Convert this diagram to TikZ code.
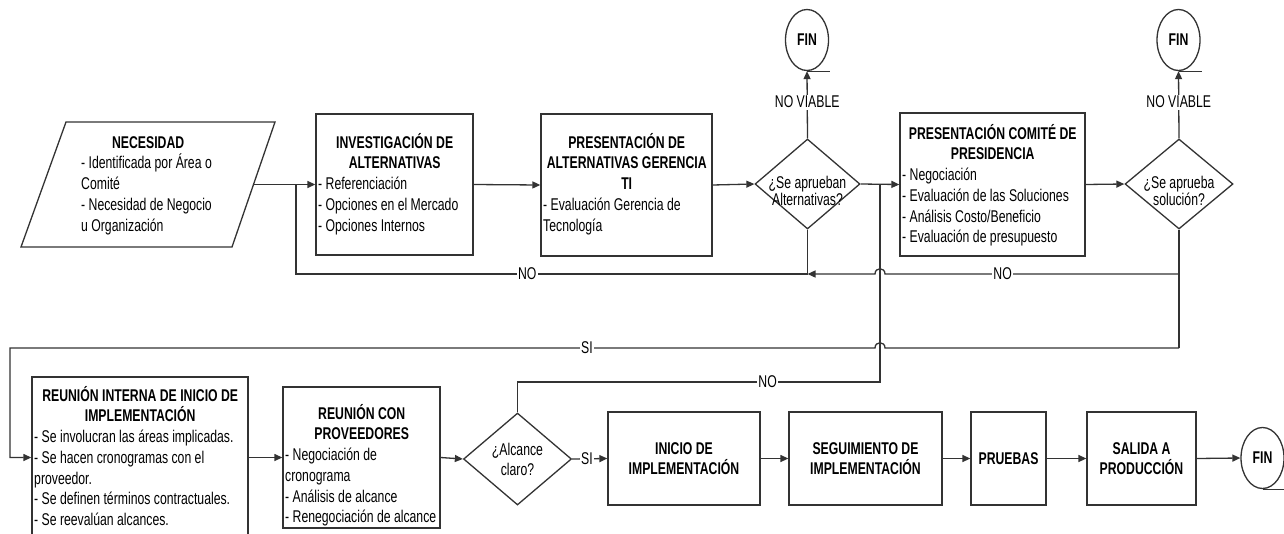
\documentclass[tikz,border=0pt]{standalone}
\usepackage{fontspec}
\setmainfont{Liberation Sans}[FakeStretch=0.72]
\usetikzlibrary{shapes.geometric,arrows.meta}
\newcommand\boxtitle[2]{\makebox[#1pt]{\bfseries #2}}
\begin{document}
\begin{tikzpicture}[x=1pt,y=-1pt,
  font=\fontsize{17pt}{20.7pt}\selectfont,
  conn/.style={draw=black!80,line width=1.3pt},
  arr/.style={conn,-{Triangle[length=8pt,width=7pt]}},
  box/.style={rectangle,draw=black!80,line width=1.3pt,inner sep=0pt},
  plainbox/.style={box,align=center,font=\fontsize{17pt}{20.7pt}\selectfont\bfseries},
  decision/.style={diamond,draw=black!80,line width=1.3pt,inner sep=0pt},
  finnode/.style={ellipse,draw=black!80,line width=1.3pt,inner sep=0pt,
    minimum width=43pt,minimum height=61pt,
    font=\fontsize{17pt}{20.7pt}\selectfont\bfseries},
  txt/.style={inner sep=0pt,align=left,anchor=north west},
  dtxt/.style={inner sep=0pt,align=center,font=\fontsize{17pt}{16.5pt}\selectfont},
  lbl/.style={fill=white,inner sep=1.5pt}]

\fill[white] (0,0) rectangle (1284,533);
\useasboundingbox (0,0) rectangle (1284,533);
\clip (0,0) rectangle (1284,533);

% ---- top row ----
% input parallelogram
\draw[conn] (66,122) -- (275,122) -- (232,247) -- (21,247) -- cycle;
\coordinate (nec-e) at (253.5,184.5);
\node[txt] (nec-t) at (81,132) {\boxtitle{134}{\rule{0pt}{16pt}NECESIDAD}\\
  - Identificada por Área o\\ Comité\\ - Necesidad de Negocio\\ u Organización};

\node[box,minimum width=157pt,minimum height=141pt] (inv) at (394.5,184.5) {};
\node[txt] (inv-t) at (318,132) {\boxtitle{153}{\rule{0pt}{16pt}INVESTIGACIÓN DE}\\
  \boxtitle{153}{ALTERNATIVAS}\\ - Referenciación\\ - Opciones en el Mercado\\ - Opciones Internos};

\node[box,minimum width=171pt,minimum height=142pt] (pres) at (626.5,185) {};
\node[txt] (pres-t) at (543,132) {\boxtitle{167}{\rule{0pt}{16pt}PRESENTACIÓN DE}\\
  \boxtitle{167}{ALTERNATIVAS GERENCIA}\\ \boxtitle{167}{TI}\\
  - Evaluación Gerencia de\\ Tecnología};

\node[decision,minimum width=105pt,minimum height=90pt] (d1) at (807.5,184) {};
\node[dtxt] (d1-t) at (807.5,191) {¿Se aprueban\\Alternativas?};
\node[finnode] (fin1) at (807,40) {FIN};

\node[box,minimum width=185pt,minimum height=143pt] (com) at (992.5,184.5) {};
\node[txt] (com-t) at (902,123) {\boxtitle{181}{\rule{0pt}{16pt}PRESENTACIÓN COMITÉ DE}\\
  \boxtitle{181}{PRESIDENCIA}\\ - Negociación\\ - Evaluación de las Soluciones\\
  - Análisis Costo/Beneficio\\ - Evaluación de presupuesto};

\node[decision,minimum width=108pt,minimum height=90pt] (d2) at (1179,184) {};
\node[dtxt] (d2-t) at (1179,191) {¿Se aprueba\\solución?};
\node[finnode] (fin2) at (1178.5,40) {FIN};

% ---- bottom row ----
\node[box,minimum width=216pt,minimum height=173pt] (reu) at (140,463.5) {};
\node[txt] (reu-t) at (34,385) {\boxtitle{212}{\rule{0pt}{16pt}REUNIÓN INTERNA DE INICIO DE}\\
  \boxtitle{212}{IMPLEMENTACIÓN}\\ - Se involucran las áreas implicadas.\\
  - Se hacen cronogramas con el\\ proveedor.\\ - Se definen términos contractuales.\\
  - Se reevalúan alcances.};

\node[box,minimum width=157pt,minimum height=141pt] (prov) at (361.5,457.5) {};
\node[txt] (prov-t) at (285,403) {\boxtitle{153}{\rule{0pt}{16pt}REUNIÓN CON}\\
  \boxtitle{153}{PROVEEDORES}\\ - Negociación de\\ cronograma\\ - Análisis de alcance\\
  - Renegociación de alcance};

\node[decision,minimum width=108pt,minimum height=92pt] (d3) at (517.5,459) {};
\node[dtxt,font=\fontsize{17pt}{20pt}\selectfont] (d3-t) at (517.5,459) {¿Alcance\\claro?};

\node[plainbox,minimum width=152pt,minimum height=93pt] (ini) at (684,458.5) {INICIO DE\\IMPLEMENTACIÓN};
\node[plainbox,minimum width=153pt,minimum height=93pt] (seg) at (865.5,458.5) {SEGUIMIENTO DE\\IMPLEMENTACIÓN};
\node[plainbox,minimum width=75pt,minimum height=93pt] (pru) at (1008.5,458.5) {PRUEBAS};
\node[plainbox,minimum width=109pt,minimum height=93pt] (sal) at (1141.5,458.5) {SALIDA A\\PRODUCCIÓN};
\node[finnode] (fin3) at (1262.5,458) {FIN};

% tape tails of the end symbols
\draw[conn] (fin1.south) -- ++(23,0);
\draw[conn] (fin2.south) -- ++(23,0);
\draw[conn] (fin3.south) -- ++(30,0);

% ---- routing points ----
\coordinate (j1) at (296,184.5);
\coordinate (j2) at (880,184.5);
\coordinate (n1) at (807.5,274);
\coordinate (n2) at (1179,274);
\coordinate (s2) at (1179,348);
\coordinate (s0) at (10,348);
\coordinate (s1) at (10,457.5);
\coordinate (a3) at (517.5,382);
\coordinate (a4) at (880,382);

% ---- main flow ----
\draw[arr] (nec-e) -- (inv.west);
\draw[arr] (inv.east) -- (pres.west);
\draw[arr] (pres.east) -- (d1.west);
\draw[arr] (d1.north) -- node[lbl,pos=0.54] {NO VIABLE} (fin1.south);
\draw[arr] (d1.east) -- (com.west);
\draw[arr] (com.east) -- (d2.west);
\draw[arr] (d2.north) -- node[lbl,pos=0.54] {NO VIABLE} (fin2.south);

% rejected alternatives go back to the research step
\draw[conn] (d1.south) -- (n1) -- node[lbl,pos=0.548] {NO} (j1 |- n1) -- (j1);
% rejected solution joins the same return line
\draw[conn] (d2.south) -- (s2);
\draw[arr] (n2) -- node[lbl,pos=0.6] {NO} (885,274)
  .. controls (885,267) and (875,267) .. (875,274) -- (n1);
% approved solution goes to the kick-off meeting
\draw[arr] (s2) -- (885,348) .. controls (885,341) and (875,341) .. (875,348)
  -- node[lbl,pos=0.333] {SI} (s0) -- (s1) -- (reu.west |- s1);
% unclear scope goes back to the committee
\draw[conn] (d3.north) -- (a3) -- node[lbl,pos=0.69] {NO} (a4) -- (j2);

\draw[arr] (reu.east |- prov.west) -- (prov.west);
\draw[arr] (prov.east) -- (d3.west);
\draw[arr] (d3.east) -- node[lbl,pos=0.42,inner sep=1pt] {SI} (ini.west);
\draw[arr] (ini.east) -- (seg.west);
\draw[arr] (seg.east) -- (pru.west);
\draw[arr] (pru.east) -- (sal.west);
\draw[arr] (sal.east) -- (fin3.west);
\end{tikzpicture}
\end{document}
